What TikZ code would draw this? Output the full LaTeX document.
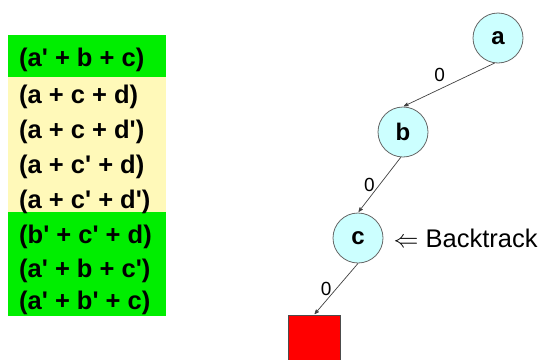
\documentclass[tikz,border=0pt]{standalone}
\usepackage{fontspec}
\setmainfont{Liberation Sans}
\usetikzlibrary{positioning,arrows,calc}
\definecolor{clgreen}{RGB}{0,238,0}
\definecolor{clyellow}{RGB}{255,249,185}
\definecolor{vfill}{RGB}{204,255,255}
\newcommand{\pr}{\textquotesingle}
\tikzset{>=stealth',
el/.style={font=\fontsize{19}{21}\selectfont},
cl/.style={anchor=west,inner sep=0pt,font=\fontsize{25.5}{28}\selectfont\bfseries},
va/.style={circle,draw=gray!80!black,line width=0.8pt,fill=vfill,minimum size=50pt,inner sep=0pt,font=\fontsize{24}{26}\selectfont\bfseries},
sink/.style={rectangle,draw=black!70,fill=red,minimum width=52pt,minimum height=52pt,inner sep=0pt},
tr/.style={->,draw=black!75,line width=0.7pt,shorten >=1pt},
}
\begin{document}
\begin{tikzpicture}[x=1pt,y=-1pt]
\useasboundingbox (0,0) rectangle (545,359);
% clause list
\fill[clgreen] (8,35) rectangle (166,77);
\fill[clyellow] (8,77) rectangle (166,212);
\fill[clgreen] (8,212) rectangle (166,316);
\node[cl] (c1) at (19,60) {(a\pr{} + b + c)};
\node[cl] (c2) at (19,97) {(a + c + d)};
\node[cl] (c3) at (19,132) {(a + c + d\pr)};
\node[cl] (c4) at (19,167) {(a + c\pr{} + d)};
\node[cl] (c5) at (19,202) {(a + c\pr{} + d\pr)};
\node[cl] (c6) at (19,237) {(b\pr{} + c\pr{} + d)};
\node[cl] (c7) at (19,271) {(a\pr{} + b + c\pr)};
\node[cl] (c8) at (19,303) {(a\pr{} + b\pr{} + c)};

% decision tree
\node[va] (a) at (498,38) {a};
\node[va] (b) at (403,132) {b};
\node[va] (c) at (358,238) {c};
\node[sink] (bot) at (314,341) {};
\node[right=10pt of c,inner sep=0pt,font=\fontsize{25.5}{28}\selectfont] (bt) {$\Leftarrow$ Backtrack};

\path
(a.262) edge[tr] node[el,above left=0pt and 0pt] {0} (b.north)
(b.265) edge[tr] node[el,left=1pt] {0} (c.north)
(c.270) edge[tr] node[el,left=1pt] {0} (bot.north)
;
\end{tikzpicture}
\end{document}
